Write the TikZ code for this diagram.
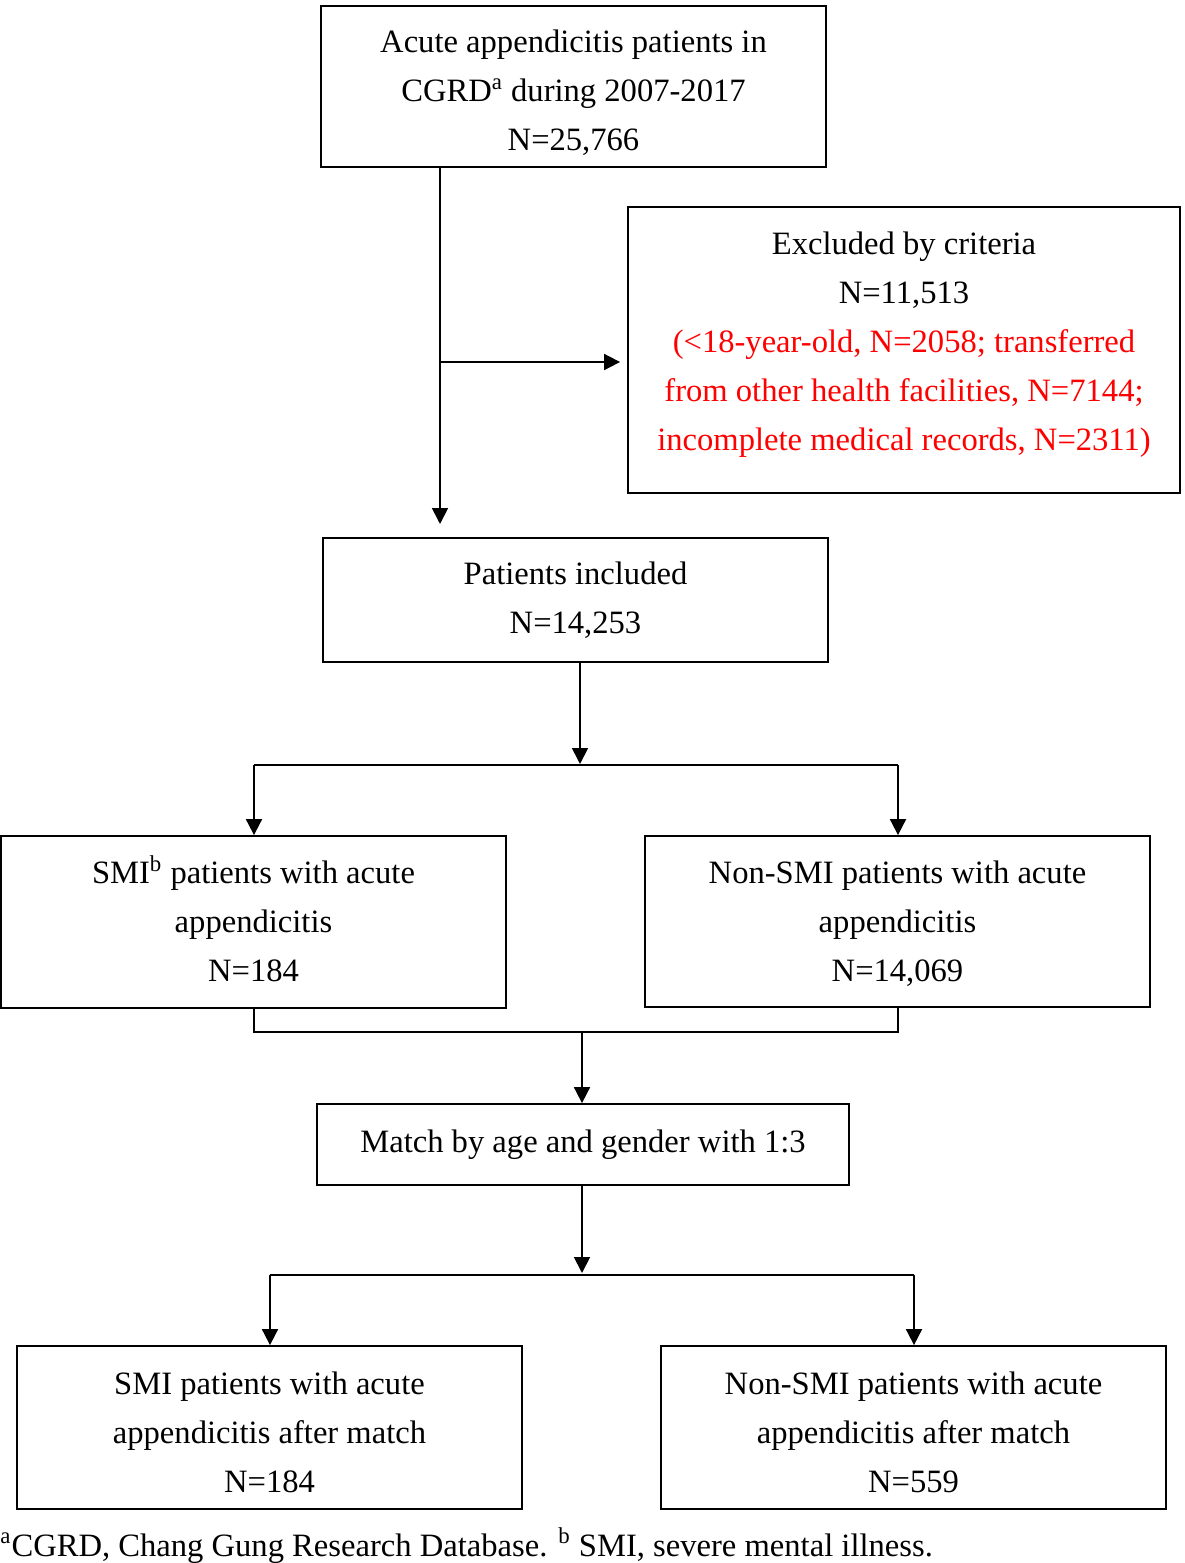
\documentclass[tikz,border=0pt]{standalone}
\usepackage{fontspec}
\setmainfont{Liberation Serif}
\usetikzlibrary{arrows.meta}
\begin{document}
\begin{tikzpicture}[x=0.5pt,y=-0.5pt,
 box/.style={draw,line width=0.9pt,rectangle,inner sep=0pt},
 txt/.style={align=center,inner sep=0pt,font=\fontsize{16.3pt}{24.5pt}\selectfont},
 conn/.style={line width=0.9pt},
 arr/.style={conn,-{Triangle[length=8pt,width=8pt]}}]
\useasboundingbox (0,0) rectangle (1184,1563);
% boxes
\node[box,minimum width=252.5pt,minimum height=80.5pt] (b1) at (573.5,86.5) {};
\node[box,minimum width=276pt,minimum height=143pt] (b2) at (904,350) {};
\node[box,minimum width=252.5pt,minimum height=62pt] (b3) at (575.5,600) {};
\node[box,minimum width=252.5pt,minimum height=86pt] (b4) at (253.5,922) {};
\node[box,minimum width=252.5pt,minimum height=85.5pt] (b5) at (897.5,921.5) {};
\node[box,minimum width=266pt,minimum height=40.5pt] (b6) at (583,1144.5) {};
\node[box,minimum width=252.5pt,minimum height=81.5pt] (b7) at (269.5,1427.5) {};
\node[box,minimum width=252.5pt,minimum height=81.5pt] (b8) at (913.5,1427.5) {};
% texts
\node[txt] (b1t) at (573.5,93)
 {Acute appendicitis patients in\\CGRD\textsuperscript{a} during 2007-2017\\N=25,766};
\node[txt] (b2t) at (904,344.5)
 {Excluded by criteria\\N=11,513\\\textcolor{red}{(<18-year-old, N=2058; transferred}\\\textcolor{red}{from other health facilities, N=7144;}\\\textcolor{red}{incomplete medical records, N=2311)}};
\node[txt] (b3t) at (575.5,600) {Patients included\\N=14,253};
\node[txt] (b4t) at (253.5,918.5) {SMI\textsuperscript{b} patients with acute\\appendicitis\\N=184};
\node[txt] (b5t) at (897.5,924) {Non-SMI patients with acute\\appendicitis\\N=14,069};
\node[txt] (b6t) at (583,1144.5) {Match by age and gender with 1:3};
\node[txt] (b7t) at (269.5,1432) {SMI patients with acute\\appendicitis after match\\N=184};
\node[txt] (b8t) at (913.5,1432) {Non-SMI patients with acute\\appendicitis after match\\N=559};
\node[anchor=base west,inner sep=0pt,font=\fontsize{16.3pt}{24.5pt}\selectfont] (fn) at (0,1556)
 {\textsuperscript{a}CGRD, Chang Gung Research Database. \textsuperscript{b} SMI, severe mental illness.};
% connectors
\coordinate (t1) at (440,0 |- b1.south);
\coordinate (e1) at (440,524);
\coordinate (br) at (440,362);
\draw[arr] (t1) -- (e1);
\draw[arr,shorten >=3.5pt] (br) -- (b2.west |- br);
\coordinate (s1) at (580,765);
\coordinate (s1l) at (254,765);
\coordinate (s1r) at (898,765);
\draw[arr] (580,0 |- b3.south) -- (580,764);
\draw[conn] (s1l) -- (s1r);
\draw[arr] (s1l) -- (s1l |- b4.north);
\draw[arr] (s1r) -- (s1r |- b5.north);
\coordinate (j1) at (582,1032);
\draw[conn] (254,0 |- b4.south) -- (254,1032) -- (898,1032) -- (898,0 |- b5.south);
\draw[arr] (j1) -- (j1 |- b6.north);
\coordinate (s2) at (582,1273);
\coordinate (s2l) at (270,1275);
\coordinate (s2r) at (914,1275);
\draw[arr] (582,0 |- b6.south) -- (s2);
\draw[conn] (s2l) -- (s2r);
\draw[arr] (s2l) -- (s2l |- b7.north);
\draw[arr] (s2r) -- (s2r |- b8.north);
\end{tikzpicture}
\end{document}
